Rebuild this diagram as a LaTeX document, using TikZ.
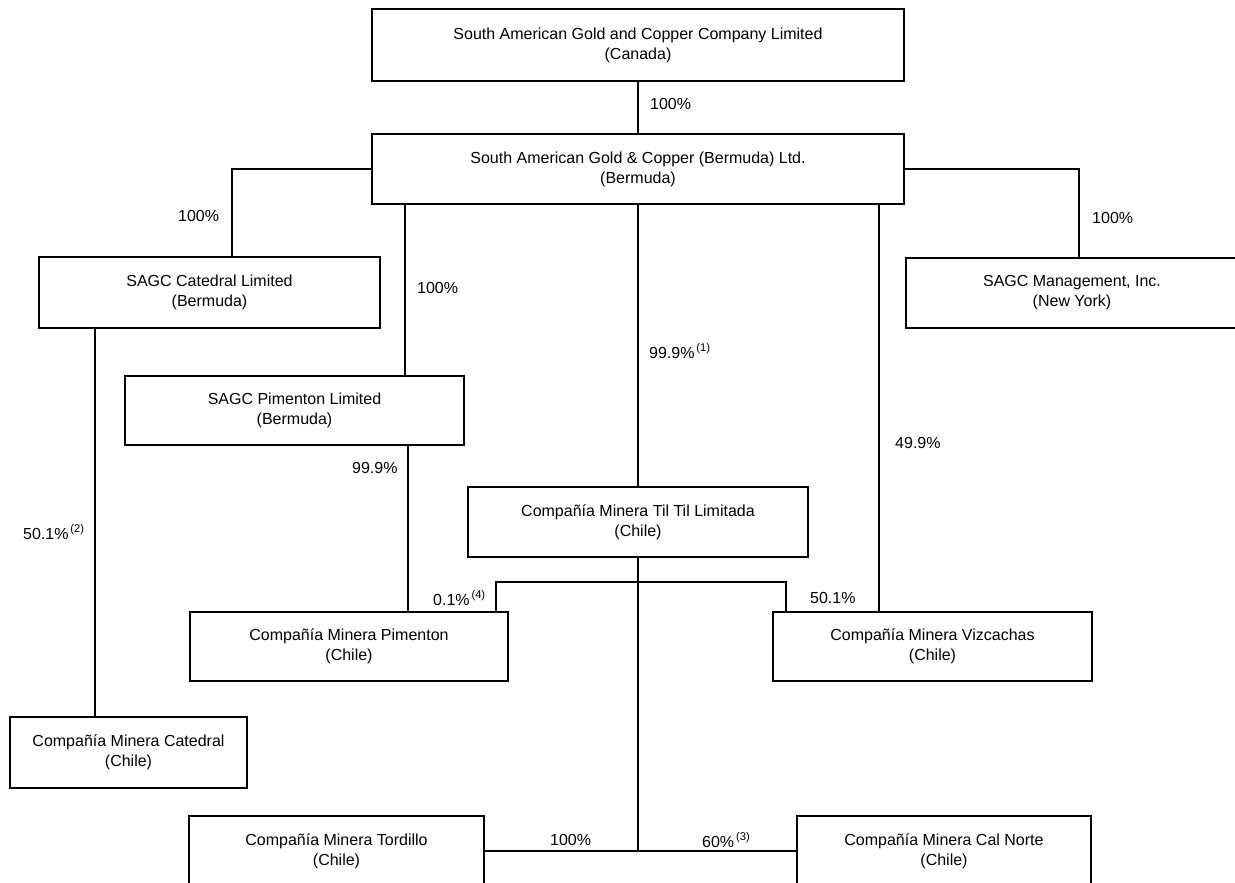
\documentclass[tikz,border=0pt]{standalone}
\usepackage{fontspec}
\setmainfont{Liberation Sans}
\begin{document}
\begin{tikzpicture}[x=1pt,y=-1pt,
  box/.style={draw,line width=2pt,rectangle,align=center,inner sep=0pt,font=\fontsize{16}{20}\selectfont},
  lbl/.style={anchor=west,inner sep=0pt,font=\fontsize{16}{20}\selectfont},
  conn/.style={line width=2pt}]
\useasboundingbox (0,0) rectangle (1235,883);
\clip (0,0) rectangle (1235,883);
% boxes
\node[box,minimum width=532pt,minimum height=72pt] (top) at (638,45) {South American Gold and Copper Company Limited\\(Canada)};
\node[box,minimum width=532pt,minimum height=70pt] (berm) at (638,169) {South American Gold \& Copper (Bermuda) Ltd.\\(Bermuda)};
\node[box,minimum width=341pt,minimum height=71pt] (catltd) at (209.5,292.5) {SAGC Catedral Limited\\(Bermuda)};
\node[box,minimum width=332pt,minimum height=70pt] (mgmt) at (1072,293) {SAGC Management, Inc.\\(New York)};
\node[box,minimum width=339pt,minimum height=69pt] (pimltd) at (294.5,410.5) {SAGC Pimenton Limited\\(Bermuda)};
\node[box,minimum width=340pt,minimum height=70pt] (tiltil) at (638,522) {Compañía Minera Til Til Limitada\\(Chile)};
\node[box,minimum width=318pt,minimum height=69pt] (minpim) at (349,646.5) {Compañía Minera Pimenton\\(Chile)};
\node[box,minimum width=319pt,minimum height=69pt] (vizc) at (932.5,646.5) {Compañía Minera Vizcachas\\(Chile)};
\node[box,minimum width=237pt,minimum height=71pt] (catchile) at (128.5,752.5) {Compañía Minera Catedral\\(Chile)};
\node[box,minimum width=295pt,minimum height=70pt] (tord) at (336.5,851) {Compañía Minera Tordillo\\(Chile)};
\node[box,minimum width=294pt,minimum height=70pt] (calnorte) at (944,851) {Compañía Minera Cal Norte\\(Chile)};
% connectors
\draw[conn] (top.south) -- (berm.north);
\draw[conn] (berm.west) -| ([xshift=22.5pt]catltd.north);
\draw[conn] (berm.east) -| ([xshift=7pt]mgmt.north);
\draw[conn] ([xshift=110.5pt]pimltd.north) -- ([xshift=110.5pt]pimltd.north |- berm.south);
\draw[conn] (berm.south) -- (tiltil.north);
\draw[conn] ([xshift=-53.5pt]vizc.north) -- ([xshift=-53.5pt]vizc.north |- berm.south);
\draw[conn] ([xshift=-114.5pt]catltd.south) -- ([xshift=-114.5pt]catltd.south |- catchile.north);
\draw[conn] ([xshift=113.5pt]pimltd.south) -- ([xshift=113.5pt]pimltd.south |- minpim.north);
\coordinate (split) at (638,582);
\draw[conn] (tiltil.south) -- (split);
\draw[conn] ([xshift=147pt]minpim.north) |- (split) -| ([xshift=-146.5pt]vizc.north);
\draw[conn] (split) -- (split |- tord.east);
\draw[conn] (tord.east) -- (calnorte.west);
% labels
\node[lbl] (l1) at (650,104) {100\%};
\node[lbl] (l2) at (178,216) {100\%};
\node[lbl] (l3) at (1092,218) {100\%};
\node[lbl] (l4) at (417,288) {100\%};
\node[lbl] (l5) at (649,351) {99.9\%\textsuperscript{\,(1)}};
\node[lbl] (l6) at (895,443) {49.9\%};
\node[lbl] (l7) at (23,532) {50.1\%\textsuperscript{\,(2)}};
\node[lbl] (l8) at (352,468) {99.9\%};
\node[lbl] (l9) at (433,598) {0.1\%\textsuperscript{\,(4)}};
\node[lbl] (l10) at (810,598) {50.1\%};
\node[lbl] (l11) at (550,840) {100\%};
\node[lbl] (l12) at (702,840) {60\%\textsuperscript{\,(3)}};
\end{tikzpicture}
\end{document}
